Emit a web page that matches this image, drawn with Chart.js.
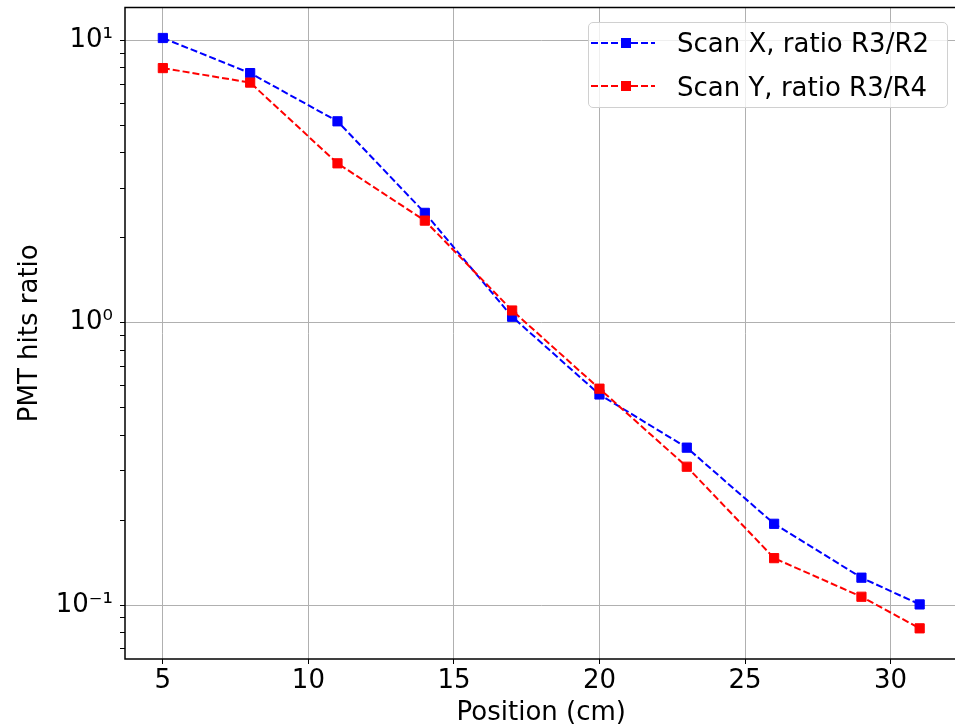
<!DOCTYPE html>
<html>
<head>
<meta charset="utf-8">
<script src="https://cdn.jsdelivr.net/npm/chart.js@4.4.1/dist/chart.umd.min.js"></script>
<style>
    html, body { margin: 0; padding: 0; background: #fff; overflow: hidden; }
    #wrap { position: relative; width: 955px; height: 728px; overflow: hidden; }
    #chart { position: absolute; left: 0; top: 0; }
    #legend {
        position: absolute; left: 588px; top: 22px; width: 360px; height: 86px;
        box-sizing: border-box; border: 1px solid #d0d0d0; border-radius: 5px;
        background: rgba(255,255,255,0.8);
        font-family: "DejaVu Sans", sans-serif; font-size: 26px; color: #000;
    }
    .row { position: absolute; left: 0; height: 30px; line-height: 30px; white-space: nowrap; }
    .row svg { position: absolute; left: 2px; top: 0; }
    .row span { position: absolute; left: 88px; top: 0; }
</style>
</head>
<body>
<div id="wrap">
    <canvas id="chart" width="965" height="728"></canvas>
    <div id="legend">
        <div class="row" style="top:5px">
            <svg width="66" height="30"><line x1="0" y1="15" x2="64" y2="15" stroke="#0000ff" stroke-width="2" stroke-dasharray="7,3"/><rect x="30" y="10" width="10" height="10" fill="#0000ff"/></svg>
            <span>Scan X, ratio R3/R2</span>
        </div>
        <div class="row" style="top:49px">
            <svg width="66" height="30"><line x1="0" y1="14" x2="64" y2="14" stroke="#ff0000" stroke-width="2" stroke-dasharray="7,3"/><rect x="30" y="9" width="10" height="10" fill="#ff0000"/></svg>
            <span>Scan Y, ratio R3/R4</span>
        </div>
    </div>
</div>
<script>
// Positions du scan (cm)
const positions = [5, 8, 11, 14, 17, 20, 23, 26, 29, 31];

// Rapports
const scanX = [10.2, 7.66, 5.17, 2.45, 1.05, 0.557, 0.361, 0.194, 0.125, 0.1005];
const scanY = [7.98, 7.09, 3.67, 2.30, 1.105, 0.584, 0.309, 0.1466, 0.107, 0.0827];

// Graduations
const xTicks = [5, 10, 15, 20, 25, 30];
const yMajorTicks = [0.1, 1, 10];
const yMajorLabels = ['10⁻¹', '10⁰', '10¹'];
const yMinorTicks = [0.07, 0.08, 0.09, 0.2, 0.3, 0.4, 0.5, 0.6, 0.7, 0.8, 0.9,
                     2, 3, 4, 5, 6, 7, 8, 9];

const font = { family: '"DejaVu Sans", sans-serif', size: 26 };

// Cadre complet autour de la zone du graphique
const framePlugin = {
    id: 'frame',
    afterDraw(chart) {
        const { ctx, chartArea: a } = chart;
        ctx.save();
        ctx.strokeStyle = '#000';
        ctx.lineWidth = 1.5;
        ctx.strokeRect(a.left, a.top, a.right - a.left, a.bottom - a.top);
        ctx.restore();
    }
};

function toPoints(values) {
    return positions.map((x, i) => ({ x: x, y: values[i] }));
}

const ctx = document.getElementById('chart').getContext('2d');
new Chart(ctx, {
    type: 'line',
    data: {
        datasets: [{
            label: 'Scan Y, ratio R3/R4',
            data: toPoints(scanY),
            borderColor: '#ff0000',
            backgroundColor: '#ff0000',
            pointBorderColor: '#ff0000'
        }, {
            label: 'Scan X, ratio R3/R2',
            data: toPoints(scanX),
            borderColor: '#0000ff',
            backgroundColor: '#0000ff',
            pointBorderColor: '#0000ff'
        }]
    },
    options: {
        responsive: false,
        animation: false,
        devicePixelRatio: 1,
        layout: { padding: { top: 7, right: 4, left: 0, bottom: 0 } },
        elements: {
            line: { borderWidth: 2, borderDash: [7, 3], tension: 0, fill: false },
            point: { pointStyle: 'rect', radius: 6.5, borderWidth: 1, hoverRadius: 6.5 }
        },
        plugins: { legend: { display: false }, tooltip: { enabled: false } },
        scales: {
            x: {
                type: 'linear',
                min: 3.7,
                max: 32.3,
                afterBuildTicks: s => { s.ticks = xTicks.map(v => ({ value: v })); },
                afterFit: s => {
                    s.height = 69;
                    s.paddingLeft = 0;
                    s.paddingRight = 0;
                },
                border: { display: false },
                grid: { color: '#b0b0b0', lineWidth: 1, tickColor: '#000', tickLength: 5 },
                ticks: { font: font, color: '#000', padding: 2, maxRotation: 0, autoSkip: false },
                title: {
                    display: true, text: 'Position (cm)', color: '#000',
                    font: { family: font.family, size: 26, lineHeight: 1.1 },
                    padding: { top: 0, bottom: 0 }
                }
            },
            y: {
                type: 'logarithmic',
                min: 0.0644,
                max: 13.08,
                afterBuildTicks: s => {
                    s.ticks = yMinorTicks.concat(yMajorTicks)
                        .sort((a, b) => a - b)
                        .map(v => ({ value: v }));
                },
                afterFit: s => {
                    s.width = 125;
                    s.paddingTop = 0;
                    s.paddingBottom = 0;
                },
                border: { display: false },
                grid: {
                    color: c => yMajorTicks.includes(c.tick.value) ? '#b0b0b0' : 'rgba(0,0,0,0)',
                    lineWidth: 1,
                    tickColor: '#000',
                    tickLength: 5
                },
                ticks: {
                    font: font, color: '#000', padding: 7, autoSkip: false,
                    callback: v => {
                        const i = yMajorTicks.indexOf(v);
                        return i >= 0 ? yMajorLabels[i] : '';
                    }
                },
                title: {
                    display: true, text: 'PMT hits ratio', color: '#000',
                    font: { family: font.family, size: 26, lineHeight: 1.1 },
                    padding: { top: 16, bottom: 0 }
                }
            }
        }
    },
    plugins: [framePlugin]
});
</script>
</body>
</html>
